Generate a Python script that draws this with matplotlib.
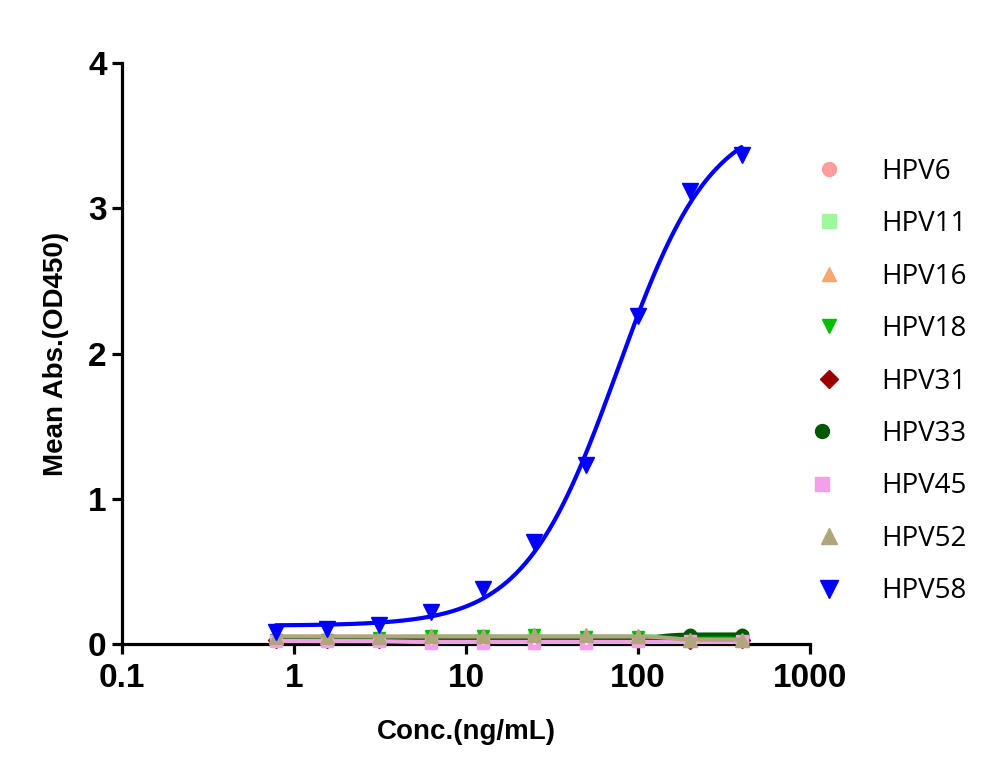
import numpy as np
import matplotlib
matplotlib.use("Agg")
import matplotlib.pyplot as plt
from matplotlib.lines import Line2D
from matplotlib.legend_handler import HandlerTuple

# ---------------- data ----------------
conc = [0.78125, 1.5625, 3.125, 6.25, 12.5, 25, 50, 100, 200, 400]
series_names = ["HPV6", "HPV11", "HPV16", "HPV18", "HPV31", "HPV33", "HPV45", "HPV52", "HPV58"]
hpv6 = [0.03, 0.03, 0.03, 0.04, 0.04, 0.04, 0.04, 0.04, 0.04, 0.04]
hpv11 = [0.03, 0.03, 0.03, 0.04, 0.04, 0.04, 0.04, 0.04, 0.04, 0.04]
hpv16 = [0.03, 0.03, 0.03, 0.04, 0.05, 0.05, 0.05, 0.04, 0.04, 0.04]
hpv18 = [0.03, 0.03, 0.04, 0.055, 0.055, 0.065, 0.05, 0.045, 0.04, 0.04]
hpv31 = [0.03, 0.03, 0.03, 0.03, 0.03, 0.03, 0.03, 0.03, 0.02, 0.03]
hpv33 = [0.03, 0.03, 0.03, 0.03, 0.03, 0.03, 0.03, 0.035, 0.065, 0.065]
hpv45 = [0.02, 0.02, 0.02, 0.01, 0.01, 0.01, 0.01, 0.02, 0.02, 0.02]
hpv52 = [0.045, 0.045, 0.045, 0.055, 0.055, 0.06, 0.06, 0.055, 0.03, 0.03]
hpv58 = [0.08, 0.10, 0.13, 0.22, 0.38, 0.70, 1.23, 2.26, 3.12, 3.37]
series_values = [hpv6, hpv11, hpv16, hpv18, hpv31, hpv33, hpv45, hpv52, hpv58]
x_ticks = [0.1, 1, 10, 100, 1000]
x_tick_labels = ["0.1", "1", "10", "100", "1000"]
y_ticks = [0, 1, 2, 3, 4]

# ---------------- styles ----------------
colors = ["#FF9C9C", "#9CFA9C", "#F4A870", "#00BE00", "#990000", "#005800", "#F2A0EA", "#B0A67C", "#0000FF"]
markers = ["o", "s", "^", "v", "D", "o", "s", "^", "v"]
msizes = [9, 9, 9, 9, 8.5, 9, 9, 10, 11.5]
center_dot = [False, False, False, False, False, True, True, False, False]


def fit_4pl(x, y):
    """Least-squares 4PL fit: grid over EC50/Hill, linear solve for bottom/top."""
    x = np.asarray(x, float)
    y = np.asarray(y, float)
    best = None
    for lec in np.linspace(np.log10(0.5), np.log10(800), 161):
        for h in np.linspace(0.3, 8, 78):
            s = 1.0 / (1.0 + (10 ** lec / x) ** h)
            A = np.column_stack([1 - s, s])
            coef, *_ = np.linalg.lstsq(A, y, rcond=None)
            r = np.sum((A @ coef - y) ** 2)
            if best is None or r < best[0]:
                best = (r, lec, h, coef)
    _, lec, h, (b, t) = best
    return lambda xx: b + (t - b) / (1.0 + (10 ** lec / xx) ** h)


fig = plt.figure(figsize=(10, 7.81), dpi=100)
ax = fig.add_axes([0.122, 0.1754, 0.688, 0.7436])

xx = np.logspace(np.log10(conc[0]), np.log10(conc[-1]), 400)
handles = []
for i, (name, vals) in enumerate(zip(series_names, series_values)):
    f = fit_4pl(conc, vals)
    ax.plot(xx, f(xx), color=colors[i], lw=3.0, zorder=2 + i, solid_capstyle="round")
    ax.plot(conc, vals, linestyle="none", marker=markers[i], ms=msizes[i],
            color=colors[i], markeredgecolor=colors[i], zorder=2 + i, clip_on=False)
    if center_dot[i]:
        ax.plot(conc, vals, linestyle="none", marker="o", ms=2.0, color="white",
                markeredgewidth=0, zorder=2 + i, clip_on=False)
    h_main = Line2D([], [], linestyle="none", marker=markers[i], ms=msizes[i] + 1,
                    color=colors[i], markeredgecolor=colors[i])
    if center_dot[i]:
        h_dot = Line2D([], [], linestyle="none", marker="o", ms=2.0, color="white",
                       markeredgewidth=0)
        handles.append((h_main, h_dot))
    else:
        handles.append(h_main)

ax.set_xscale("log")
ax.set_xlim(0.1, 1000)
ax.set_ylim(0, 4)
ax.set_xticks(x_ticks)
ax.set_xticklabels(x_tick_labels)
ax.set_yticks(y_ticks)
ax.xaxis.set_minor_locator(matplotlib.ticker.NullLocator())

for side in ["top", "right"]:
    ax.spines[side].set_visible(False)
for side in ["left", "bottom"]:
    ax.spines[side].set_linewidth(2.3)
ax.tick_params(axis="both", which="major", length=7, width=2.3, direction="out")
ax.tick_params(axis="x", pad=7)
ax.tick_params(axis="y", pad=4)
for lab in ax.get_xticklabels() + ax.get_yticklabels():
    lab.set_fontfamily("Liberation Sans")
    lab.set_fontweight("bold")
    lab.set_fontsize(24)

ax.set_xlabel("Conc.(ng/mL)", fontfamily="Liberation Sans", fontweight="bold", fontsize=20, labelpad=18)
ax.set_ylabel("Mean Abs.(OD450)", fontfamily="Liberation Sans", fontweight="bold", fontsize=20, labelpad=14)

leg = fig.legend(handles, series_names, loc="upper left", bbox_to_anchor=(0.815, 0.798),
                 frameon=False, prop={"family": "Open Sans", "size": 20},
                 handler_map={tuple: HandlerTuple(ndivide=None, pad=0)},
                 labelspacing=0.88, handlelength=1.0, handletextpad=1.40, borderaxespad=0,
                 borderpad=0)

fig.savefig("out.png", dpi=100)
